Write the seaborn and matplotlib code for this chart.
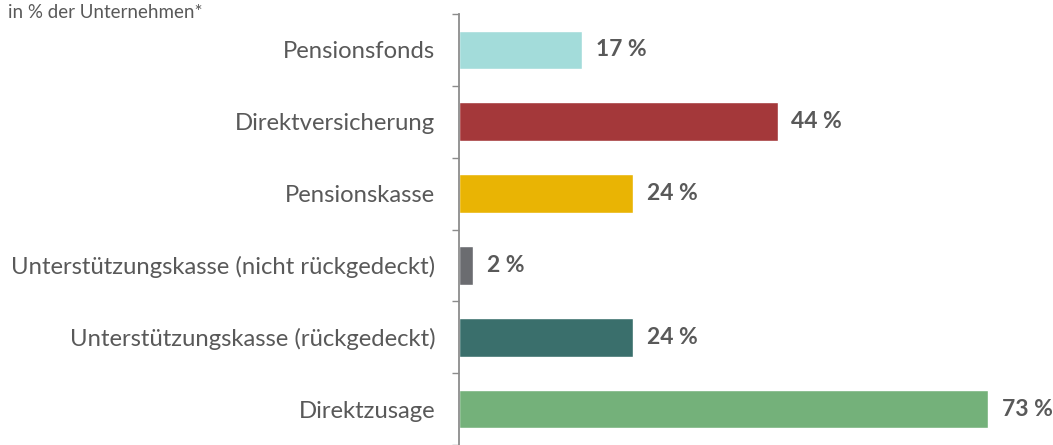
import pandas as pd
import matplotlib.pyplot as plt
import seaborn as sns

categories = ["Pensionsfonds", "Direktversicherung", "Pensionskasse",
              "Unterstützungskasse (nicht rückgedeckt)",
              "Unterstützungskasse (rückgedeckt)", "Direktzusage"]
values = [17, 44, 24, 2, 24, 73]
colors = ["#A3DCDA", "#A4383A", "#E9B404", "#6B6C70", "#3A6F6C", "#74B17A"]

df = pd.DataFrame({"Durchführungsweg": categories, "Anteil": values})

sns.set_style("white")
plt.rcParams['font.family'] = ['Lato', 'DejaVu Sans']

fig = plt.figure(figsize=(10.53, 4.45), dpi=100)
ax = fig.add_axes([459 / 1053, 0.0, 1 - 459 / 1053, 1 - 14 / 445])

sns.barplot(data=df, x="Anteil", y="Durchführungsweg", hue="Durchführungsweg",
            palette=colors, legend=False, width=0.54, ax=ax, saturation=1)

ax.set_xlim(0, 82)
ax.set_ylim(len(categories) - 0.5, -0.5)
ax.set_xlabel("")
ax.set_ylabel("")
ax.set_xticks([])

for s in ["top", "right", "bottom"]:
    ax.spines[s].set_visible(False)
ax.spines["left"].set_color("#8C8C8C")
ax.spines["left"].set_linewidth(1.3)

# tick marks between the bars, labels at the bar centres
ax.set_yticks([i + 0.5 for i in range(-1, len(categories))], minor=True)
ax.tick_params(axis="y", which="minor", length=5, width=1, color="#8C8C8C", left=True)
ax.tick_params(axis="y", which="major", length=0, pad=17, labelsize=17.2, labelcolor="#595959")

for i, v in enumerate(values):
    ax.text(v + 1.9, i, f"{v} %", va="center", ha="left", fontsize=16.5,
            fontweight="bold", color="#595959", clip_on=False)

fig.text(8 / 1053, 1 - 13 / 445, "in % der Unternehmen*", fontsize=13.5,
         color="#595959", va="center", ha="left")

fig.savefig("out.png", dpi=100)
